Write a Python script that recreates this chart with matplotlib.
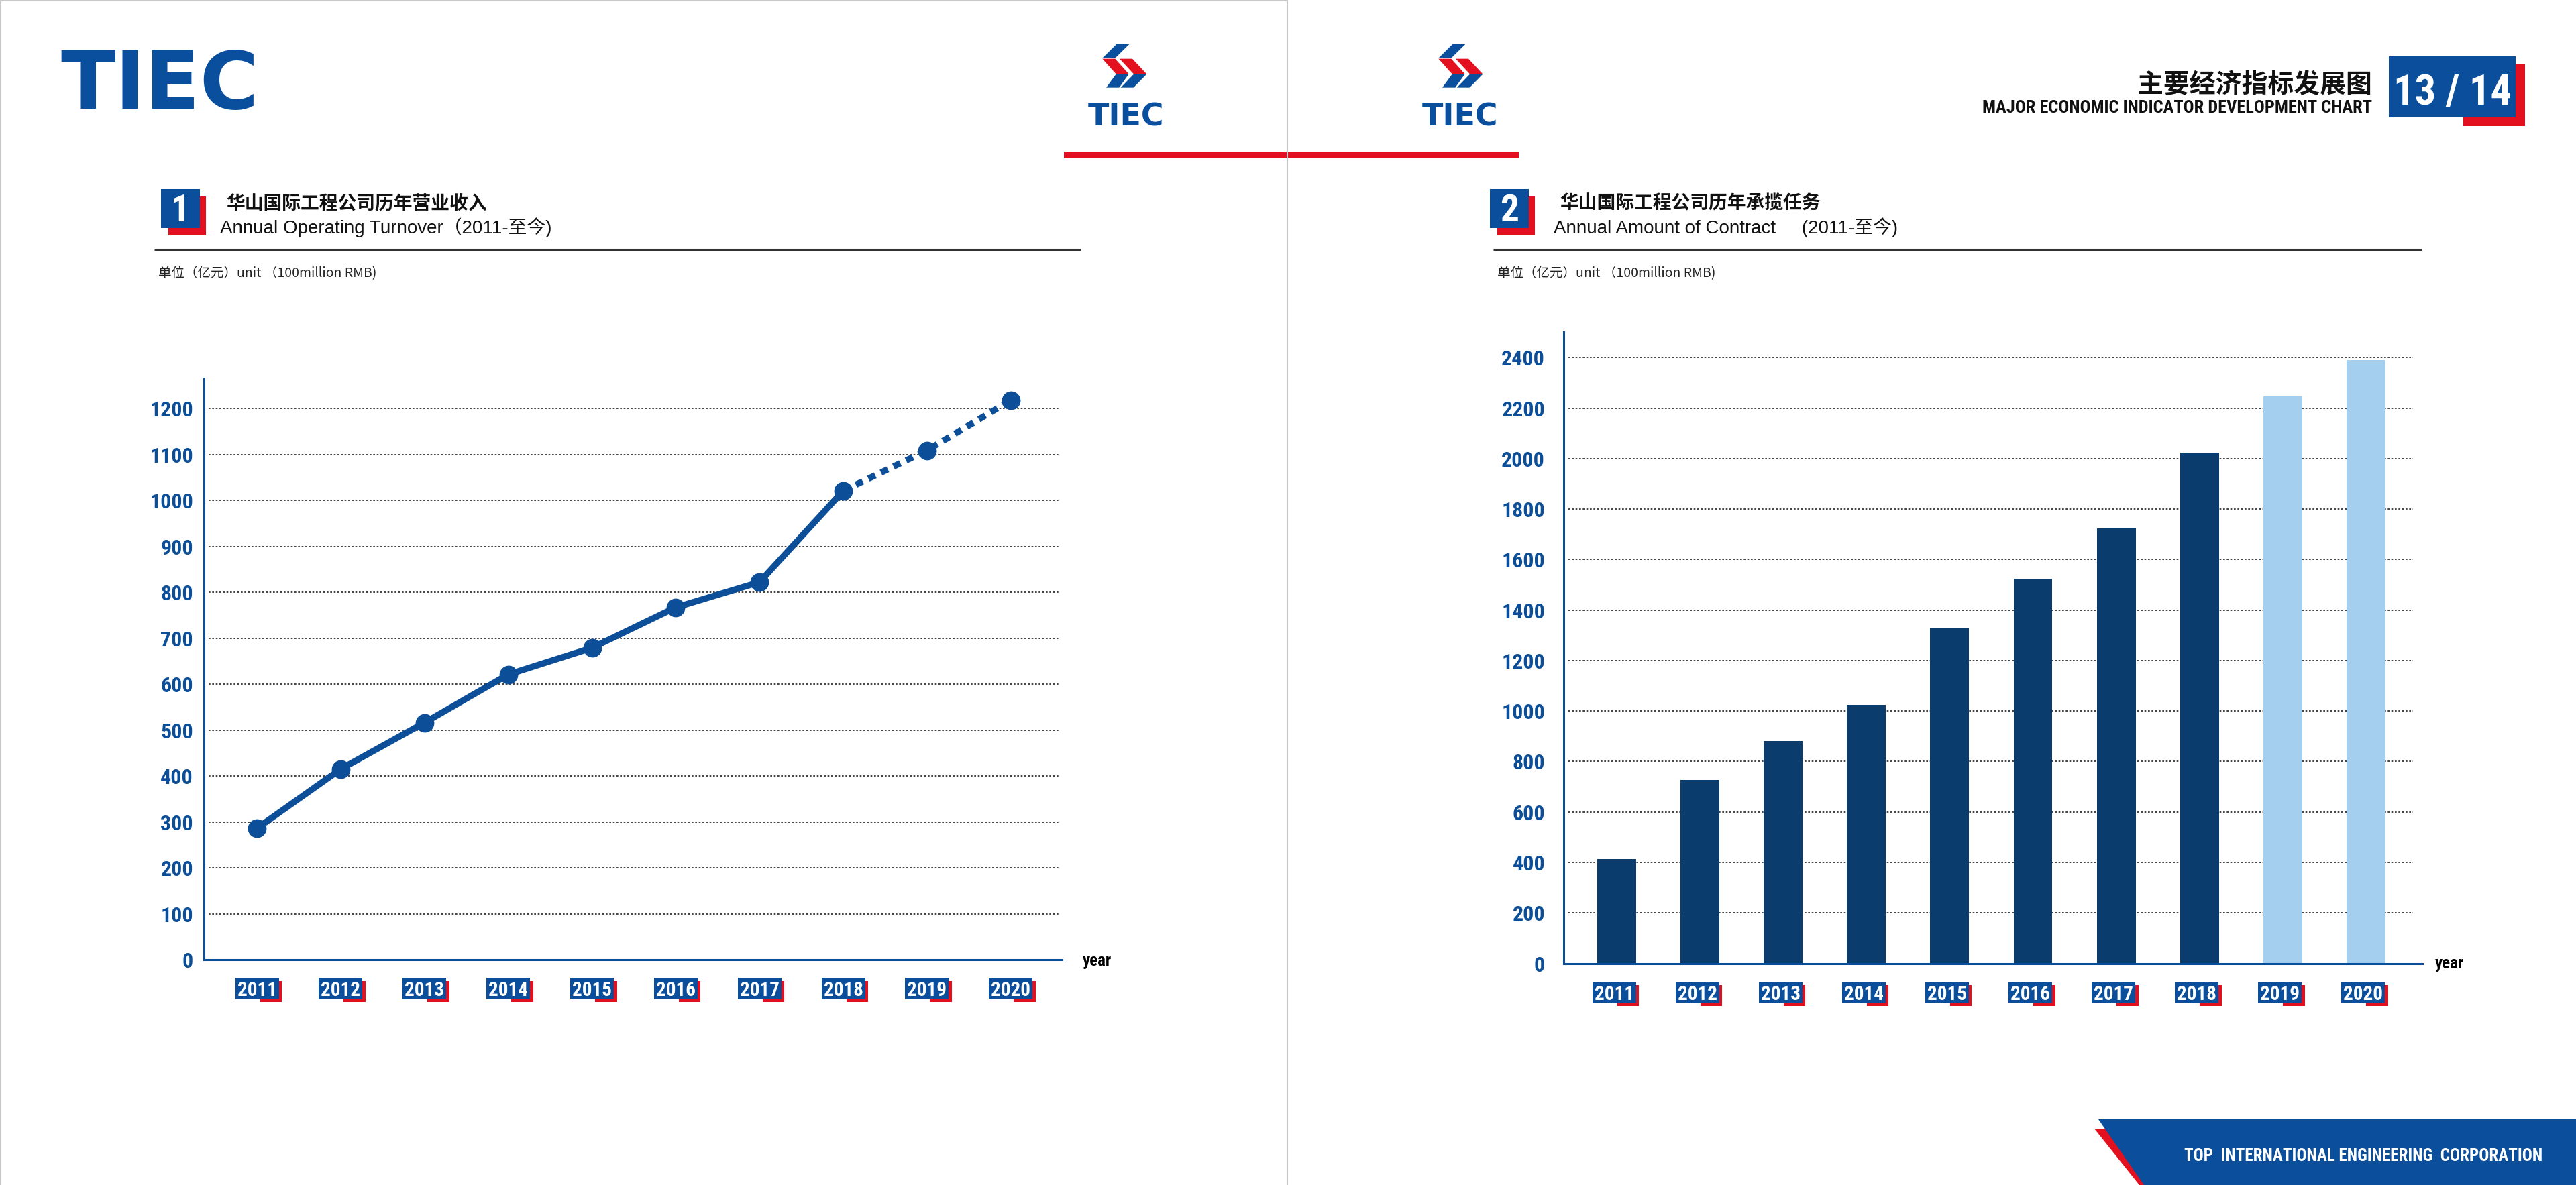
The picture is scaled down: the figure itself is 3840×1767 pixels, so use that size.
import os
import matplotlib
matplotlib.use('Agg')
import matplotlib.pyplot as plt
import matplotlib.font_manager as fm
from matplotlib.font_manager import FontProperties
from matplotlib.patches import Rectangle, Polygon
import numpy as np

# ---------------- data ----------------
years = ['2011', '2012', '2013', '2014', '2015', '2016', '2017', '2018', '2019', '2020']
turnover = [286, 415, 516, 621, 679, 767, 822, 1021, 1109, 1218]   # 亿元
turnover_solid_upto = 8            # 2011-2018 solid, 2018-2020 dotted (forecast)
contract = [414, 726, 880, 1025, 1331, 1524, 1724, 2023, 2246, 2391]  # 亿元
contract_forecast = [False] * 8 + [True, True]
yticks1 = [0, 100, 200, 300, 400, 500, 600, 700, 800, 900, 1000, 1100, 1200]
yticks2 = [0, 200, 400, 600, 800, 1000, 1200, 1400, 1600, 1800, 2000, 2200, 2400]

title1_cn = '华山国际工程公司历年营业收入'
title1_en = 'Annual Operating Turnover（2011-至今)'
title2_cn = '华山国际工程公司历年承揽任务'
title2_en = 'Annual Amount of Contract     (2011-至今)'
unit_text = '单位（亿元）unit （100million RMB)'
page_cn = '主要经济指标发展图'
page_en = 'MAJOR ECONOMIC INDICATOR DEVELOPMENT CHART'
page_no = '13 / 14'
footer = 'TOP  INTERNATIONAL ENGINEERING  CORPORATION'

# ---------------- style ----------------
BLUE = '#0c4e97'
LOGO_BLUE = '#0a4f9e'
BADGE_BLUE = '#0b4f9c'
RED = '#e3101f'
NAVY = '#0a3d6e'
LIGHT = '#a5cfee'
GRID = '#222222'
SANS = ['Liberation Sans', 'Noto Sans CJK SC', 'DejaVu Sans']
CJK = ['Noto Sans CJK SC', 'DejaVu Sans']


def find_condensed_bold():
    files = {}
    for f in fm.fontManager.ttflist:
        files.setdefault(os.path.basename(f.fname), f.fname)
    prefs = ['LiberationSansNarrow-Bold.ttf', 'RobotoCondensed-Bold.ttf',
             'NotoSans-CondensedBold.ttf', 'DejaVuSansCondensed-Bold.ttf',
             'OpenSans-CondensedBold.ttf', 'NotoSans-SemiCondensedBold.ttf',
             'NotoSans-ExtraCondensedBold.ttf']
    for p in prefs:
        if p in files:
            return files[p]
    for b, path in files.items():
        lb = b.lower()
        if ('condensed' in lb or 'narrow' in lb) and 'bold' in lb \
                and 'italic' not in lb and 'oblique' not in lb:
            return path
    return None


COND_FILE = find_condensed_bold()
CSCALE = 1.0 if COND_FILE else 0.8


def cond(size):
    if COND_FILE:
        return FontProperties(fname=COND_FILE, size=size)
    return FontProperties(family='DejaVu Sans', weight='bold',
                          stretch='condensed', size=size * CSCALE)


W, H = 3840, 1767
fig = plt.figure(figsize=(W / 100, H / 100), dpi=100)
fig.patch.set_facecolor('white')

deco = fig.add_axes([0, 0, 1, 1])
deco.set_xlim(0, W)
deco.set_ylim(H, 0)
deco.axis('off')
deco.set_zorder(0)


def ax_rect(x0, x1, ytop, ybot):
    return [x0 / W, (H - ybot) / H, (x1 - x0) / W, (ybot - ytop) / H]


ax1 = fig.add_axes(ax_rect(304, 1583, 564, 1431))
ax2 = fig.add_axes(ax_rect(2331, 3611, 495, 1436.5))
for ax in (ax1, ax2):
    ax.set_zorder(2)
    ax.set_facecolor('none')
    for s in ('top', 'right'):
        ax.spines[s].set_visible(False)
    for s in ('left', 'bottom'):
        ax.spines[s].set_color(BLUE)
        ax.spines[s].set_linewidth(2.2)
    ax.set_xticks([])
    ax.tick_params(axis='y', length=0, labelcolor=BLUE)

x = np.arange(len(years))
GRID_LS = (0, (1.6, 1.6))

# ---------------- chart 1: line ----------------
ax1.set_xlim(-0.633, 9.61)
ax1.set_ylim(0, 1266)
for v in yticks1[1:]:
    ax1.axhline(v, xmin=0.0055, xmax=0.996, color=GRID, lw=1.2,
                ls=GRID_LS, zorder=1)
n = turnover_solid_upto
ax1.plot(x[:n], turnover[:n], color=BLUE, lw=6.8, zorder=3,
         solid_joinstyle='round')
ax1.plot(x[n - 1:], turnover[n - 1:], color=BLUE, lw=6.8, zorder=3,
         ls=(0, (1.2, 1.0)), dash_capstyle='butt')
ax1.plot(x, turnover, 'o', ms=19, color=BLUE, zorder=4, clip_on=False)
ax1.set_yticks(yticks1)
ax1.set_yticklabels([str(v) for v in yticks1])
for t in ax1.get_yticklabels():
    t.set_fontproperties(cond(23))
ax1.tick_params(axis='y', pad=11.5)

# ---------------- chart 2: bars ----------------
ax2.set_xlim(-0.637, 9.678)
ax2.set_ylim(0, 2502)
for v in yticks2[1:]:
    ax2.axhline(v, xmin=0.0055, xmax=0.989, color=GRID, lw=1.2,
                ls=GRID_LS, zorder=1)
bar_colors = [LIGHT if f else NAVY for f in contract_forecast]
ax2.bar(x, contract, width=0.467, color=bar_colors, zorder=2, linewidth=0)
ax2.set_yticks(yticks2)
ax2.set_yticklabels([str(v) for v in yticks2])
for t in ax2.get_yticklabels():
    t.set_fontproperties(cond(23))
ax2.tick_params(axis='y', pad=20)


# ---------------- year badges ----------------
def data_to_px(ax, xv, yv):
    dx, dy = ax.transData.transform((xv, yv))
    return dx, H - dy


def badge(cx, cy, label, w=65, h=32):
    l = cx - w / 2
    t = cy - h / 2
    deco.add_patch(Rectangle((l + 37, t + 5), w - 37 + 4.5, h - 5 + 4,
                             color=RED, lw=0, zorder=1))
    deco.add_patch(Rectangle((l, t), w, h, color=BADGE_BLUE, lw=0, zorder=2))
    deco.text(cx, t + h - 5, label, color='white', ha='center', va='baseline',
              fontproperties=cond(21), zorder=3)


for i, yr in enumerate(years):
    cx, _ = data_to_px(ax1, i, 0)
    badge(cx, 1474, yr)
    cx2, _ = data_to_px(ax2, i, 0)
    badge(cx2 - 4, 1480, yr)

deco.text(1614, 1440, 'year', ha='left', va='baseline',
          fontproperties=cond(18), color='black')
deco.text(3630, 1444, 'year', ha='left', va='baseline',
          fontproperties=cond(18), color='black')

# ---------------- page decorations ----------------
deco.plot([0, 1919], [1.5, 1.5], color='#c8c8c8', lw=1.5)
deco.plot([1.0, 1.0], [0, H], color='#c8c8c8', lw=1.5)
deco.plot([1919, 1919], [0, H], color='#c8c8c8', lw=1.5)

# big TIEC logo
deco.text(90, 162, 'TIEC', color=LOGO_BLUE, fontfamily=['DejaVu Sans'],
          fontweight='bold', fontsize=86, ha='left', va='baseline')


def chevron(ox, oy):
    def P(pts, c):
        deco.add_patch(Polygon([(ox + px / 3, oy + py / 3) for px, py in pts],
                               closed=True, color=c, lw=0))
    P([(196, 48), (253, 48), (190, 110), (133, 110)], LOGO_BLUE)
    P([(133, 113), (190, 113), (250, 180), (193, 180)], RED)
    P([(210, 113), (267, 113), (330, 180), (272, 180)], RED)
    P([(193, 183), (250, 183), (208, 242), (150, 242)], LOGO_BLUE)
    P([(272, 183), (330, 183), (272, 242), (215, 242)], LOGO_BLUE)


chevron(2100 - 501, 50)
chevron(2100, 50)
deco.text(1678.5, 188, 'TIEC', color=LOGO_BLUE, fontfamily=['DejaVu Sans'],
          fontweight='bold', fontsize=33, ha='center', va='baseline')
deco.text(2177, 188, 'TIEC', color=LOGO_BLUE, fontfamily=['DejaVu Sans'],
          fontweight='bold', fontsize=33, ha='center', va='baseline')
deco.add_patch(Rectangle((1586, 226), 1920 - 1586, 10, color=RED, lw=0))
deco.add_patch(Rectangle((1920, 226), 2264 - 1920, 10, color=RED, lw=0))

# page title + page number
deco.text(3536, 138, page_cn, ha='right', va='baseline', fontfamily=CJK,
          fontweight='bold', fontsize=28, color='#111111')
deco.text(3536, 168, page_en, ha='right', va='baseline',
          fontproperties=cond(19), color='#111111')
deco.add_patch(Rectangle((3672, 96), 92, 92, color=RED, lw=0))
deco.add_patch(Rectangle((3561, 84), 189, 91, color=BADGE_BLUE, lw=0))
deco.text(3656, 156, page_no, ha='center', va='baseline',
          fontproperties=cond(45), color='white')


# section headers
def section(num, bx, tx, rule_x0, rule_x1, cn, en):
    deco.add_patch(Rectangle((bx + 11, 293), 56, 58, color=RED, lw=0))
    deco.add_patch(Rectangle((bx, 282), 58, 58, color=BADGE_BLUE, lw=0))
    deco.text(bx + 29, 330, num, ha='center', va='baseline',
              fontproperties=cond(40), color='white')
    deco.text(tx + 9, 311, cn, ha='left', va='baseline', fontfamily=CJK,
              fontweight='bold', fontsize=20, color='#111111')
    deco.text(tx, 348, en, ha='left', va='baseline', fontfamily=SANS,
              fontsize=20, color='#111111')
    deco.plot([rule_x0, rule_x1], [372, 372], color='#333333', lw=2.2,
              solid_capstyle='butt')
    deco.text(rule_x0 + 6, 413, unit_text, ha='left', va='baseline',
              fontfamily=CJK, fontsize=14, color='#222222')


section('1', 240, 328, 230, 1611, title1_cn, title1_en)
section('2', 2221, 2316, 2226, 3610, title2_cn, title2_en)

# footer band
deco.add_patch(Polygon([(3122, 1683), (3145, 1683), (3200, 1767), (3189, 1767)],
                       closed=True, color=RED, lw=0))
deco.add_patch(Polygon([(3128, 1669), (3840, 1669), (3840, 1767), (3196, 1767)],
                       closed=True, color=BADGE_BLUE, lw=0))
deco.text(3523, 1731, footer, ha='center', va='baseline',
          fontproperties=cond(18), color='white')

fig.savefig('out.png', dpi=100, facecolor='white')
